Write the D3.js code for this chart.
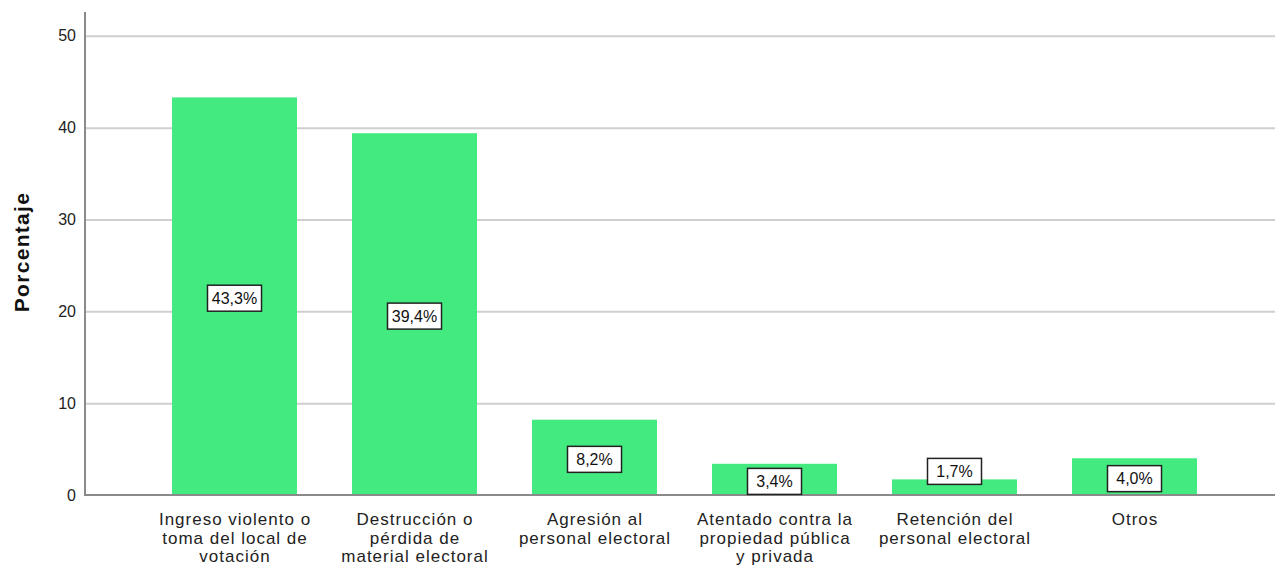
<!DOCTYPE html>
<html>
<head>
<meta charset="utf-8">
<script src="https://cdn.jsdelivr.net/npm/d3@7"></script>
<style>
  body { margin: 0; background: #fff; }
  svg { font-family: "Liberation Sans", Arial, sans-serif; }
  .grid line { stroke: #cfcfcf; stroke-width: 2; }
  .grid path { display: none; }
  .y.axis path, .y.axis line { display: none; }
  .y.axis text { font-size: 16px; fill: #222; font-family: "Liberation Sans", Arial, sans-serif; }
  .cat text { font-size: 17px; fill: #222; letter-spacing: 1px; }
</style>
</head>
<body>
<div id="chart"></div>
<script>
// categories (lines of each label)
var categories = [
  ["Ingreso violento o", "toma del local de", "votación"],
  ["Destrucción o", "pérdida de", "material electoral"],
  ["Agresión al", "personal electoral"],
  ["Atentado contra la", "propiedad pública", "y privada"],
  ["Retención del", "personal electoral"],
  ["Otros"]
];
var values = [43.3, 39.4, 8.2, 3.4, 1.7, 4.0];
var valueLabels = ["43,3%", "39,4%", "8,2%", "3,4%", "1,7%", "4,0%"];
var yTicks = [0, 10, 20, 30, 40, 50];

var width = 1275, height = 566;
var yScale = d3.scaleLinear().domain([0, 52.6]).range([495, 12]);
var xScale = d3.scaleBand()
    .domain(d3.range(categories.length))
    .range([117, 1252])
    .padding(0.3056);

var svg = d3.select("#chart").append("svg")
    .attr("width", width)
    .attr("height", height);

// gridlines
svg.append("g")
    .attr("class", "grid")
    .attr("transform", "translate(85,0)")
    .call(d3.axisLeft(yScale).tickValues(yTicks.slice(1)).tickSize(-(width - 85)).tickFormat(""));

// y axis labels
svg.append("g")
    .attr("class", "y axis")
    .attr("transform", "translate(85,0)")
    .call(d3.axisLeft(yScale).tickValues(yTicks).tickSize(0).tickPadding(9));

// bars
svg.selectAll(".bar")
    .data(values)
  .enter().append("rect")
    .attr("class", "bar")
    .attr("x", function(d, i) { return xScale(i); })
    .attr("y", function(d) { return yScale(d); })
    .attr("width", xScale.bandwidth())
    .attr("height", function(d) { return yScale(0) - yScale(d); })
    .style("fill", "#43ea7f");

// axis lines
svg.append("line")
    .attr("x1", 85).attr("x2", 85)
    .attr("y1", yScale.range()[1]).attr("y2", yScale(0) + 1)
    .style("stroke", "#8a8a8a").style("stroke-width", 2);
svg.append("line")
    .attr("x1", 85).attr("x2", width)
    .attr("y1", yScale(0)).attr("y2", yScale(0))
    .style("stroke", "#8a8a8a").style("stroke-width", 2);

// value labels
var boxW = 54, boxH = 26;
var lab = svg.selectAll(".vlab")
    .data(values)
  .enter().append("g")
    .attr("class", "vlab")
    .attr("transform", function(d, i) {
      var top = yScale(d), h = yScale(0) - top;
      var cy = h >= boxH ? top + h / 2 + 2 : top - 8;
      return "translate(" + (xScale(i) + xScale.bandwidth() / 2) + "," + cy + ")";
    });
lab.append("rect")
    .attr("x", -boxW / 2).attr("y", -boxH / 2)
    .attr("width", boxW).attr("height", boxH)
    .style("fill", "#fff").style("stroke", "#222").style("stroke-width", 1.5);
lab.append("text")
    .attr("text-anchor", "middle")
    .attr("dy", "0.36em")
    .style("font-size", "16px")
    .style("fill", "#111")
    .text(function(d, i) { return valueLabels[i]; });

// category labels
var cat = svg.selectAll(".cat")
    .data(categories)
  .enter().append("g")
    .attr("class", "cat")
    .attr("transform", function(d, i) {
      return "translate(" + (xScale(i) + xScale.bandwidth() / 2 + 0.5) + ",525)";
    });
cat.selectAll("text")
    .data(function(d) { return d; })
  .enter().append("text")
    .attr("text-anchor", "middle")
    .attr("y", function(d, j) { return j * 18.5; })
    .text(function(d) { return d; });

// y title
svg.append("text")
    .attr("transform", "translate(29,252) rotate(-90)")
    .attr("text-anchor", "middle")
    .style("font-size", "21px")
    .style("letter-spacing", "1.3px")
    .style("font-weight", "bold")
    .style("fill", "#111")
    .text("Porcentaje");
</script>
</body>
</html>
